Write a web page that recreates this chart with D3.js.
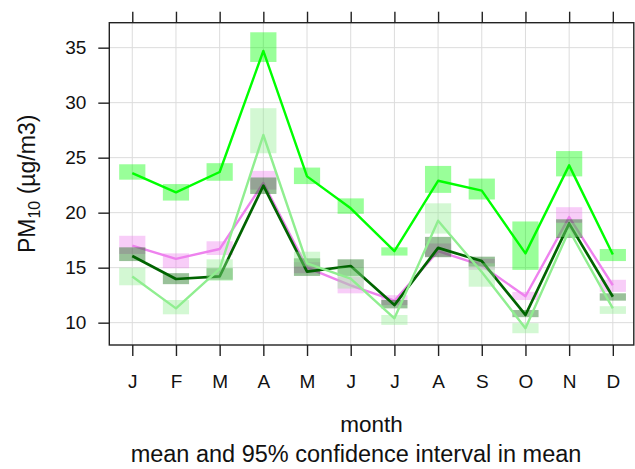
<!DOCTYPE html>
<html>
<head>
<meta charset="utf-8">
<script src="https://cdn.jsdelivr.net/npm/d3@7"></script>
<style>
  html, body { margin: 0; padding: 0; background: #fff; }
  svg { display: block; font-family: "Liberation Sans", Arial, sans-serif; }
</style>
</head>
<body>
<svg id="chart" width="635" height="469"></svg>
<script>
// ---- data ----
const months = [1,2,3,4,5,6,7,8,9,10,11,12];
const monthLabels = ["J","F","M","A","M","J","J","A","S","O","N","D"];
const yTicks = [10, 15, 20, 25, 30, 35];

const seriesNames = ["green", "violet", "darkgreen", "lightgreen"];
const seriesColors = ["#00FF00", "#EE82EE", "#006400", "#90EE90"];

const greenMean  = [23.6, 21.85, 23.7, 34.7, 23.3, 20.4, 16.5, 22.9, 22.0, 16.3, 24.3, 16.2];
const greenLow   = [23.0, 21.1, 22.9, 33.7, 22.6, 19.9, 16.1, 21.8, 21.2, 14.8, 23.3, 15.6];
const greenHigh  = [24.4, 22.6, 24.5, 36.4, 24.1, 21.3, 16.85, 24.25, 23.1, 19.2, 25.6, 16.7];

const violetMean = [17.0, 15.8, 16.7, 22.7, 15.0, 13.4, 12.0, 16.5, 15.2, 12.4, 19.6, 13.4];
const violetLow  = [16.25, 14.95, 16.15, 22.1, 14.5, 12.67, 11.6, 16.0, 14.8, 12.06, 19.1, 12.8];
const violetHigh = [17.9, 16.3, 17.4, 23.8, 15.5, 14.2, 12.5, 17.2, 15.8, 12.8, 20.5, 13.9];

const dkgreenMean = [16.06, 13.97, 14.2, 22.45, 14.64, 15.15, 11.6, 16.8, 15.6, 10.7, 19.0, 12.36];
const dkgreenLow  = [15.6, 13.5, 13.9, 21.7, 14.25, 14.25, 11.3, 15.95, 15.1, 10.5, 17.7, 12.0];
const dkgreenHigh = [16.85, 14.5, 14.95, 23.2, 15.85, 15.76, 12.06, 17.8, 16.0, 11.15, 19.4, 12.67];

const ltgreenMean = [14.2, 11.3, 14.9, 27.06, 15.4, 14.0, 10.4, 19.27, 14.6, 9.5, 18.4, 11.3];
const ltgreenLow  = [13.4, 10.76, 13.8, 25.4, 15.1, 13.1, 9.8, 18.1, 13.27, 9.04, 17.8, 10.8];
const ltgreenHigh = [15.0, 12.06, 15.76, 29.5, 16.45, 15.0, 10.7, 20.85, 15.4, 9.95, 19.06, 11.5];

const means = [greenMean, violetMean, dkgreenMean, ltgreenMean];
const lows  = [greenLow, violetLow, dkgreenLow, ltgreenLow];
const highs = [greenHigh, violetHigh, dkgreenHigh, ltgreenHigh];

// ---- layout ----
const svg = d3.select("#chart");
const P = { left: 109.3, right: 633.8, top: 22.7, bottom: 345 };

const x = d3.scaleLinear().domain([0.474, 12.48]).range([P.left, P.right]);
const y = d3.scaleLinear().domain([7.97, 37.27]).range([P.bottom, P.top]);

// grid
const grid = svg.append("g");
grid.selectAll("line.v").data(months).enter().append("line")
  .attr("x1", d => x(d)).attr("x2", d => x(d))
  .attr("y1", P.top).attr("y2", P.bottom)
  .attr("stroke", "#dcdcdc").attr("stroke-width", 1);
grid.selectAll("line.h").data(yTicks).enter().append("line")
  .attr("x1", P.left).attr("x2", P.right)
  .attr("y1", d => y(d)).attr("y2", d => y(d))
  .attr("stroke", "#dcdcdc").attr("stroke-width", 1);

// series
const halfW = 0.3;
seriesNames.forEach((name, k) => {
  const g = svg.append("g").attr("class", "series-" + name);
  const rows = months.map((m, i) => ({ m, mean: means[k][i], lo: lows[k][i], hi: highs[k][i] }));
  g.selectAll("rect").data(rows).enter().append("rect")
    .attr("x", d => x(d.m - halfW))
    .attr("width", d => x(d.m + halfW) - x(d.m - halfW))
    .attr("y", d => y(d.hi))
    .attr("height", d => y(d.lo) - y(d.hi))
    .attr("fill", seriesColors[k])
    .attr("fill-opacity", 0.4);
  const line = d3.line().x(d => x(d.m)).y(d => y(d.mean));
  g.append("path").datum(rows)
    .attr("d", line)
    .attr("fill", "none")
    .attr("stroke", seriesColors[k])
    .attr("stroke-width", k === 2 ? 2.7 : 2.4)
    .attr("stroke-linejoin", "round");
});

// frame
svg.append("rect")
  .attr("x", P.left).attr("y", P.top)
  .attr("width", P.right - P.left).attr("height", P.bottom - P.top)
  .attr("fill", "none").attr("stroke", "#222").attr("stroke-width", 1.4);

// axes
const tickLen = 11;
const fontTick = 19;
const bottomAxis = d3.axisBottom(x).tickValues(months)
  .tickFormat((d, i) => monthLabels[i]).tickSizeOuter(0).tickSizeInner(tickLen).tickPadding(16);
const ba = svg.append("g").attr("transform", `translate(0,${P.bottom})`).call(bottomAxis);
const topAxis = d3.axisTop(x).tickValues(months).tickFormat("").tickSizeOuter(0).tickSizeInner(tickLen);
const ta = svg.append("g").attr("transform", `translate(0,${P.top})`).call(topAxis);
const leftAxis = d3.axisLeft(y).tickValues(yTicks).tickSizeOuter(0).tickSizeInner(tickLen).tickPadding(12);
const la = svg.append("g").attr("transform", `translate(${P.left},0)`).call(leftAxis);

[ba, ta, la].forEach(a => {
  a.select(".domain").remove();
  a.selectAll(".tick line").attr("stroke", "#222").attr("stroke-width", 1.4);
  a.selectAll(".tick text").attr("font-size", fontTick)
    .attr("font-family", "Liberation Sans, Arial, sans-serif").attr("fill", "#111");
});
ba.selectAll(".tick text").attr("dy", null).attr("y", null)
  .attr("transform", null).attr("dominant-baseline", "auto")
  .each(function() { d3.select(this).attr("y", 387.8 - P.bottom); });

// axis titles
svg.append("text")
  .attr("x", (P.left + P.right) / 2).attr("y", 431.5)
  .attr("text-anchor", "middle").attr("font-size", 22.5).attr("fill", "#111")
  .text("month");

const yl = svg.append("text")
  .attr("transform", `translate(35,${(P.top + P.bottom) / 2}) rotate(-90)`)
  .attr("text-anchor", "middle").attr("font-size", 23).attr("fill", "#111");
yl.append("tspan").text("PM");
yl.append("tspan").attr("font-size", 16).attr("dy", 5).text("10");
yl.append("tspan").attr("dy", -5).text(" (µg/m3)");

svg.append("text")
  .attr("x", 356).attr("y", 462)
  .attr("text-anchor", "middle").attr("font-size", 23.5).attr("fill", "#111")
  .text("mean and 95% confidence interval in mean");
</script>
</body>
</html>
